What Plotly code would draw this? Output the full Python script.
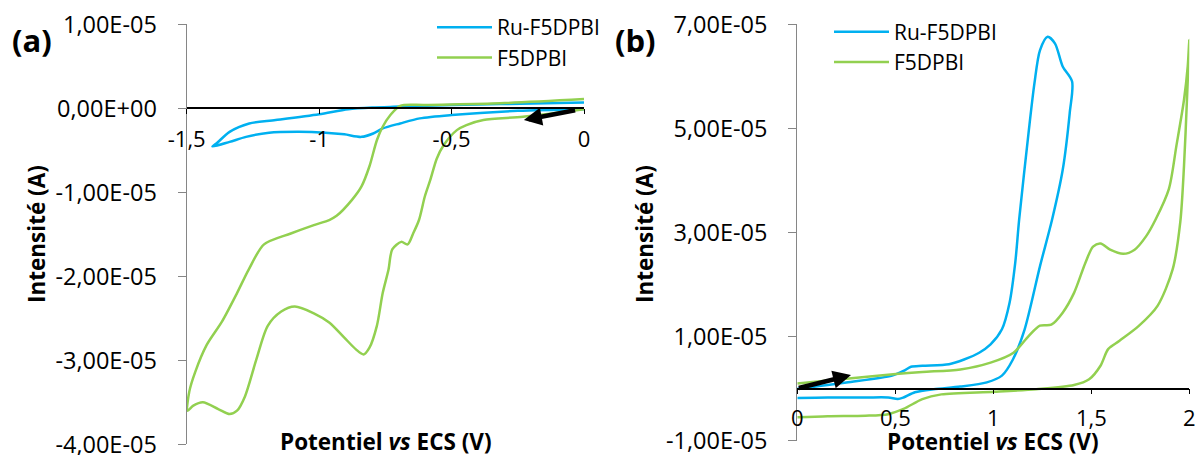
import plotly.graph_objects as go

# ---------------- data (current in units of 1e-5 A) ----------------
# Panel (a) - reduction scan
ru_a_v = [0.0, -0.25, -0.5, -0.62, -0.694, -0.76, -0.796, -0.84, -0.905, -0.977, -1.077,
          -1.189, -1.276, -1.338, -1.403,
          -1.388, -1.338, -1.264, -1.164, -1.0, -0.89, -0.8, -0.694, -0.5, -0.317, 0.0]
ru_a_i = [-0.01, -0.03, -0.08, -0.12, -0.18, -0.24, -0.30, -0.34, -0.31, -0.29, -0.28,
          -0.29, -0.34, -0.40, -0.455,
          -0.42, -0.28, -0.18, -0.14, -0.07, -0.01, 0.01, 0.02, 0.04, 0.05, 0.07]

f5_a_v = [0.0, -0.23, -0.38, -0.444, -0.48, -0.53, -0.556, -0.58, -0.601, -0.623, -0.645,
          -0.666, -0.69, -0.724, -0.738, -0.76, -0.782, -0.81, -0.832, -0.861, -0.905,
          -0.962, -1.02, -1.092, -1.143, -1.194, -1.237, -1.28, -1.31, -1.338, -1.381,
          -1.439, -1.475, -1.497,
          -1.49, -1.468, -1.425, -1.367, -1.31, -1.266, -1.208, -1.107, -1.02, -0.962,
          -0.934, -0.876, -0.84, -0.81, -0.782, -0.76, -0.731, -0.694, -0.6, -0.317, 0.0]
f5_a_i = [-0.01, -0.10, -0.14, -0.20, -0.26, -0.44, -0.60, -0.85, -1.05, -1.33, -1.49,
          -1.62, -1.59, -1.68, -1.92, -2.20, -2.59, -2.85, -2.93, -2.87, -2.73,
          -2.55, -2.44, -2.36, -2.42, -2.59, -2.99, -3.43, -3.60, -3.64, -3.58,
          -3.50, -3.54, -3.60,
          -3.37, -3.14, -2.82, -2.54, -2.20, -1.92, -1.62, -1.49, -1.39, -1.33,
          -1.28, -1.09, -0.93, -0.69, -0.38, -0.22, -0.08, 0.03, 0.04, 0.06, 0.11]

# Panel (b) - oxidation scan
ru_b_v = [0.0, 0.25, 0.484, 0.542, 0.58, 0.638, 0.774, 0.851, 0.928, 0.986, 1.044, 1.083,
          1.112, 1.132, 1.18, 1.21, 1.238, 1.277, 1.315, 1.354, 1.402,
          1.39, 1.354, 1.30, 1.238, 1.16, 1.10, 1.044, 0.967, 0.832, 0.696, 0.6, 0.542,
          0.513, 0.464, 0.348, 0.155, 0.0]
ru_b_i = [0.0, 0.12, 0.25, 0.34, 0.42, 0.44, 0.47, 0.56, 0.69, 0.85, 1.14, 1.65,
          2.42, 3.25, 4.92, 5.87, 6.50, 6.76, 6.63, 6.19, 5.90,
          5.30, 4.20, 3.25, 2.35, 1.14, 0.56, 0.25, 0.12, 0.04, -0.01, -0.07, -0.17,
          -0.20, -0.17, -0.17, -0.17, -0.18]

f5_b_v = [0.0, 0.25, 0.503, 0.638, 0.832, 0.986, 1.103, 1.18, 1.238, 1.296, 1.354, 1.412,
          1.47, 1.509, 1.547, 1.596, 1.663, 1.721, 1.78, 1.828, 1.896, 1.934, 1.973,
          1.992, 2.0,
          1.988, 1.973, 1.954, 1.915, 1.838, 1.741, 1.644, 1.586, 1.547, 1.489, 1.412,
          1.219, 1.006, 0.735, 0.638, 0.542, 0.464, 0.348, 0.155, 0.0]
f5_b_i = [0.10, 0.19, 0.28, 0.32, 0.37, 0.50, 0.69, 1.01, 1.21, 1.23, 1.46, 1.84,
          2.42, 2.73, 2.79, 2.67, 2.59, 2.67, 2.93, 3.25, 3.84, 4.66, 5.55,
          6.19, 6.70,
          5.55, 4.28, 3.20, 2.29, 1.59, 1.20, 0.92, 0.76, 0.44, 0.18, 0.07,
          -0.01, -0.06, -0.11, -0.20, -0.39, -0.49, -0.52, -0.53, -0.55]

# Axis ticks
xa_ticks = [-1.5, -1.0, -0.5, 0.0]
xa_text = ["-1,5", "-1", "-0,5", "0"]
ya_ticks = [-4, -3, -2, -1, 0, 1]
ya_text = ["-4,00E-05", "-3,00E-05", "-2,00E-05", "-1,00E-05", "0,00E+00", "1,00E-05"]
xb_ticks = [0.0, 0.5, 1.0, 1.5, 2.0]
xb_text = ["0", "0,5", "1", "1,5", "2"]
yb_ticks = [-1, 1, 3, 5, 7]
yb_text = ["-1,00E-05", "1,00E-05", "3,00E-05", "5,00E-05", "7,00E-05"]

# Scan direction arrows (tail -> tip), data units
arrow_a = dict(tail=(-0.028, -0.02), tip=(-0.227, -0.14))
arrow_b = dict(tail=(0.0, 0.005), tip=(0.274, 0.26))

BLUE = "#00B0F0"
GREEN = "#92D050"
FONT = "Open Sans"

W, H = 1195, 455
# plot geometry (pixels)
xa_dom = [186.7 / W, 584.0 / W]
ya_dom = [1 - 444.3 / H, 1 - 24.3 / H]
xb_dom = [797.3 / W, 1189.3 / W]
yb_dom = [1 - 440.7 / H, 1 - 24.3 / H]
ya_range = [-4, 1]
yb_range = [-1, 7]


def zero_pos(dom, rng):
    return dom[0] + (0 - rng[0]) / (rng[1] - rng[0]) * (dom[1] - dom[0])


fig = go.Figure()
fig.add_trace(go.Scatter(x=ru_a_v, y=ru_a_i, mode="lines", name="Ru-F5DPBI",
                         line=dict(color=BLUE, width=2.5, shape="spline", smoothing=0.8),
                         xaxis="x", yaxis="y", legend="legend"))
fig.add_trace(go.Scatter(x=f5_a_v, y=f5_a_i, mode="lines", name="F5DPBI",
                         line=dict(color=GREEN, width=2.5, shape="spline", smoothing=0.8),
                         xaxis="x", yaxis="y", legend="legend"))
fig.add_trace(go.Scatter(x=ru_b_v, y=ru_b_i, mode="lines", name="Ru-F5DPBI",
                         line=dict(color=BLUE, width=2.5, shape="spline", smoothing=0.8),
                         xaxis="x2", yaxis="y2", legend="legend2"))
fig.add_trace(go.Scatter(x=f5_b_v, y=f5_b_i, mode="lines", name="F5DPBI",
                         line=dict(color=GREEN, width=2.5, shape="spline", smoothing=0.8),
                         xaxis="x2", yaxis="y2", legend="legend2"))

xcommon = dict(showgrid=False, zeroline=False, showline=True, linecolor="black", linewidth=1.5,
               ticks="outside", ticklen=5, tickcolor="black", tickwidth=1.3,
               tickfont=dict(family=FONT, size=22, color="black"), anchor="free",
               automargin=False, ticklabeloverflow="allow")
ycommon = dict(showgrid=False, zeroline=False, showline=True, linecolor="#868686", linewidth=1.3,
               ticks="outside", ticklen=8, tickcolor="#868686", tickwidth=1.3,
               tickfont=dict(family=FONT, size=23.5, color="black"), ticklabelstandoff=16,
               automargin=False, ticklabeloverflow="allow")

fig.update_layout(
    width=W, height=H, margin=dict(l=0, r=0, t=0, b=0, autoexpand=False),
    paper_bgcolor="white", plot_bgcolor="white",
    font=dict(family=FONT, color="black"),
    xaxis=dict(domain=xa_dom, range=[-1.5, 0], tickvals=xa_ticks, ticktext=xa_text,
               position=zero_pos(ya_dom, ya_range), ticklabelstandoff=7, **xcommon),
    yaxis=dict(domain=ya_dom, range=ya_range, tickvals=ya_ticks, ticktext=ya_text,
               anchor="x", **ycommon),
    xaxis2=dict(domain=xb_dom, range=[0, 2], tickvals=xb_ticks, ticktext=xb_text,
                position=zero_pos(yb_dom, yb_range), ticklabelstandoff=5, **xcommon),
    yaxis2=dict(domain=yb_dom, range=yb_range, tickvals=yb_ticks, ticktext=yb_text,
                anchor="x2", **ycommon),
    legend=dict(x=432 / W, y=1 - 7 / H, xanchor="left", yanchor="top",
                font=dict(family=FONT, size=21, color="black"), itemwidth=55,
                bgcolor="rgba(0,0,0,0)", traceorder="normal"),
    legend2=dict(x=829 / W, y=1 - 11.5 / H, xanchor="left", yanchor="top",
                 font=dict(family=FONT, size=21, color="black"), itemwidth=55,
                 bgcolor="rgba(0,0,0,0)", traceorder="normal"),
    showlegend=True,
)

ann = []
for txt, xp in [("<b>(a)</b>", 32), ("<b>(b)</b>", 635)]:
    ann.append(dict(text=txt, x=xp / W, y=1 - 40 / H, xref="paper", yref="paper",
                    xanchor="center", yanchor="middle", showarrow=False,
                    font=dict(family=FONT, size=31, color="black")))
for xp in [386, 993]:
    ann.append(dict(text="<b>Potentiel <i>vs</i> ECS (V)</b>", x=xp / W, y=1 - 441 / H,
                    xref="paper", yref="paper", xanchor="center", yanchor="middle",
                    showarrow=False, font=dict(family=FONT, size=22.5, color="black")))
for xp in [37, 645]:
    ann.append(dict(text="<b>Intensité (A)</b>", x=xp / W, y=1 - 234 / H, textangle=-90,
                    xref="paper", yref="paper", xanchor="center", yanchor="middle",
                    showarrow=False, font=dict(family=FONT, size=22.5, color="black")))
for arr, xr, yr in [(arrow_a, "x", "y"), (arrow_b, "x2", "y2")]:
    ann.append(dict(x=arr["tip"][0], y=arr["tip"][1], ax=arr["tail"][0], ay=arr["tail"][1],
                    xref=xr, yref=yr, axref=xr, ayref=yr, text="", showarrow=True,
                    arrowhead=2, arrowsize=0.8, arrowwidth=4.5, arrowcolor="black"))
fig.update_layout(annotations=ann)

# remove the default page margin so the figure sits at the window's top-left corner
fig.write_html("out.html", config={"displayModeBar": False},
               post_script="document.body.style.margin='0px';")
